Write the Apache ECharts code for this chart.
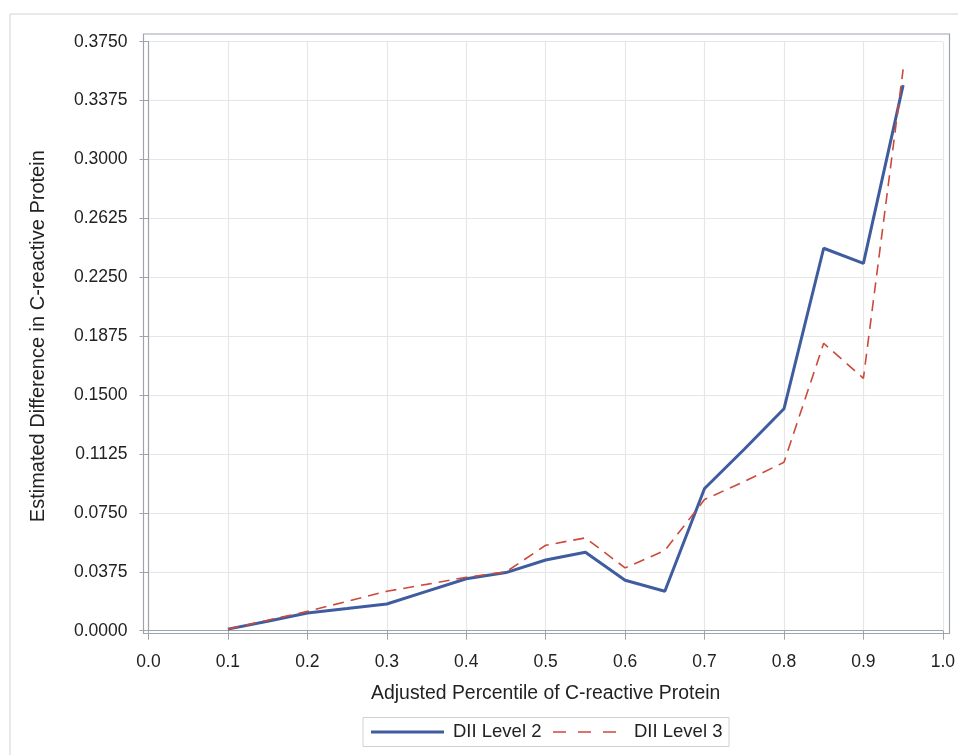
<!DOCTYPE html>
<html>
<head>
<meta charset="utf-8">
<script src="https://cdn.jsdelivr.net/npm/echarts@6/dist/echarts.min.js"></script>
<style>html,body{margin:0;padding:0;background:#fff;}#c{width:958px;height:755px;}</style>
</head>
<body>
<div id="c"></div>
<script>
const percentiles = [0.10,0.15,0.20,0.25,0.30,0.35,0.40,0.45,0.50,0.55,0.60,0.65,0.70,0.75,0.80,0.85,0.90,0.95];
const level2 = [0.0010,0.0060,0.0113,0.0141,0.0170,0.0250,0.0331,0.0370,0.0450,0.0499,0.0321,0.0251,0.0905,0.1155,0.1413,0.2435,0.2339,0.3474];
const level3 = [0.0010,0.0067,0.0123,0.0187,0.0251,0.0295,0.0340,0.0374,0.0544,0.0591,0.0400,0.0510,0.0835,0.0950,0.1072,0.1830,0.1607,0.3574];
const seriesNames = ['DII Level 2','DII Level 3'];
const xTitle = 'Adjusted Percentile of C-reactive Protein';
const yTitle = 'Estimated Difference in C-reactive Protein';

const font = '"Liberation Sans", Arial, sans-serif';
const chart = echarts.init(document.getElementById('c'), null, {renderer:'canvas'});
const axisGray = '#9ea4ab';
const blue = '#3f5d9e', red = '#cc4a3c';
chart.setOption({
  animation:false,
  backgroundColor:'#fff',
  textStyle:{fontFamily:font},
  graphic:[
    {type:'rect', shape:{x:10,y:14,width:960,height:760}, style:{fill:'none',stroke:'#d2d2d2',lineWidth:1}, z:0},
    {type:'rect', shape:{x:143.5,y:34,width:806,height:599.5}, style:{fill:'none',stroke:axisGray,lineWidth:1.2}, z:10},
    {type:'rect', shape:{x:363,y:717.5,width:366,height:29}, style:{fill:'none',stroke:'#d0d0d0',lineWidth:1}, z:10},
    {type:'line', shape:{x1:371,y1:732,x2:444,y2:732}, style:{stroke:blue,lineWidth:3}, z:10},
    {type:'text', x:453, y:732, style:{text:seriesNames[0],font:'18.5px '+font,fill:'#222',verticalAlign:'middle',align:'left'}, z:10},
    {type:'line', shape:{x1:553,y1:732,x2:617,y2:732}, style:{stroke:red,lineWidth:1.6,lineDash:[13,12]}, z:10},
    {type:'text', x:634, y:732, style:{text:seriesNames[1],font:'18.5px '+font,fill:'#222',verticalAlign:'middle',align:'left'}, z:10}
  ],
  grid:{left:148.5,right:15,top:41.7,bottom:124.3},
  xAxis:{
    type:'value', min:0, max:1, interval:0.1, offset:3,
    name:xTitle, nameLocation:'middle', nameGap:50,
    nameTextStyle:{fontFamily:font,fontSize:19.4,color:'#222'},
    axisLine:{show:true,lineStyle:{color:axisGray,width:1.2}},
    axisTick:{show:true,length:9,lineStyle:{color:axisGray}},
    axisLabel:{fontFamily:font,fontSize:17.5,color:'#222',margin:19,formatter:v=>v.toFixed(1)},
    splitLine:{show:true,lineStyle:{color:'#e6e6e6',width:1.2}}
  },
  yAxis:{
    type:'value', min:0, max:0.375, interval:0.0375, offset:5,
    name:yTitle, nameLocation:'middle', nameGap:95,
    nameTextStyle:{fontFamily:font,fontSize:20,color:'#222'},
    axisLine:{show:true,lineStyle:{color:axisGray,width:1.2}},
    axisTick:{show:true,length:9,lineStyle:{color:axisGray}},
    axisLabel:{fontFamily:font,fontSize:17.5,color:'#222',margin:16,formatter:v=>v.toFixed(4)},
    splitLine:{show:true,lineStyle:{color:'#e6e6e6',width:1.2}}
  },
  series:[
    {name:seriesNames[0], type:'line', data:percentiles.map((x,i)=>[x,level2[i]]), symbol:'none',
     lineStyle:{color:blue,width:3}, itemStyle:{color:blue}, z:3},
    {name:seriesNames[1], type:'line', data:percentiles.map((x,i)=>[x,level3[i]]), symbol:'none',
     lineStyle:{color:red,width:1.6,type:[11,7]}, itemStyle:{color:red}, z:4}
  ]
});
</script>
</body>
</html>
